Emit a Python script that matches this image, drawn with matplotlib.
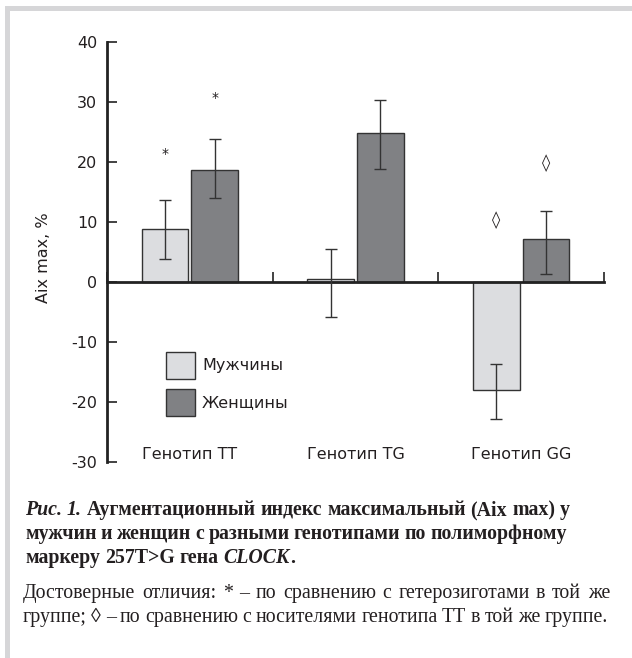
import matplotlib
matplotlib.use('Agg')
import matplotlib.pyplot as plt
from matplotlib.patches import Rectangle
import numpy as np

plt.rcParams['axes.unicode_minus'] = False

# данные
genotypes = ['Генотип TT', 'Генотип TG', 'Генотип GG']
series = ['Мужчины', 'Женщины']
men = [8.9, 0.5, -18.0]
men_lo = [5.0, 6.3, 4.8]
men_hi = [4.8, 5.0, 4.4]
women = [18.7, 24.8, 7.2]
women_lo = [4.7, 5.9, 5.8]
women_hi = [5.2, 5.6, 4.6]
# значки достоверности: (группа, пол, уровень)
stars = [(0, 0, 21.5), (0, 1, 30.8)]
diamonds = [(2, 0, 10.4), (2, 1, 19.8)]

yticks = [-30, -20, -10, 0, 10, 20, 30, 40]

W, H = 632, 658
ink = '#231f20'
sans = ['DejaVu Sans']
serif = ['Liberation Serif', 'DejaVu Serif']

fig = plt.figure(figsize=(W / 100, H / 100), dpi=100)
fig.patch.set_facecolor('white')

# серая рамка сверху и слева
fig.add_artist(Rectangle((5 / W, 1 - 11 / H), 1, 5 / H, transform=fig.transFigure,
                         facecolor='#d6d6d8', edgecolor='none'))
fig.add_artist(Rectangle((5 / W, 0), 5 / W, 1 - 6 / H, transform=fig.transFigure,
                         facecolor='#d6d6d8', edgecolor='none'))

ax = fig.add_axes([107 / W, 196 / H, 497 / W, 420 / H])
x = np.arange(len(genotypes))
off = 0.15
bw = 0.28
b1 = ax.bar(x + 0.5 - off, men, bw, color='#dcdde0', edgecolor='#333333', linewidth=1.0,
            label=series[0], zorder=2)
b2 = ax.bar(x + 0.5 + off, women, bw, color='#808184', edgecolor='#333333', linewidth=1.0,
            label=series[1], zorder=2)
ax.errorbar(x + 0.5 - off, men, yerr=[men_lo, men_hi], fmt='none', ecolor='#333333',
            elinewidth=1.0, capsize=4.3, capthick=1.0, zorder=3)
ax.errorbar(x + 0.5 + off, women, yerr=[women_lo, women_hi], fmt='none', ecolor='#333333',
            elinewidth=1.0, capsize=4.3, capthick=1.0, zorder=3)

for g, s, lev in stars:
    xx = g + 0.5 + (off if s else -off)
    ax.annotate('*', (xx, lev), xytext=(0, -0.5), textcoords='offset points', ha='center',
                va='center', fontsize=10, color=ink, family=sans)
for g, s, lev in diamonds:
    xx = g + 0.5 + (off if s else -off)
    ax.annotate('◊', (xx, lev), xytext=(0, 0), textcoords='offset points', ha='center',
                va='center', fontsize=12, color=ink, family=sans)

for i, name in enumerate(genotypes):
    ax.text(i + 0.5, -28.8, name, ha='center', va='center', fontsize=11.5, color=ink,
            family=sans)

ax.set_xlim(0, 3)
ax.set_ylim(-30, 40)
ax.set_yticks(yticks)
ax.set_xticks([0, 1, 2, 3])
ax.tick_params(axis='x', direction='in', length=7, width=1.2, labelbottom=False, color='#222222')
ax.tick_params(axis='y', direction='in', length=7, width=1.2, pad=7, labelsize=11.5,
               labelcolor=ink, color='#222222')
for lab in ax.get_yticklabels():
    lab.set_family(sans)
ax.spines['top'].set_visible(False)
ax.spines['right'].set_visible(False)
ax.spines['bottom'].set_position(('data', 0))
ax.spines['left'].set_linewidth(2)
ax.spines['bottom'].set_linewidth(2)
ax.spines['left'].set_color('#222222')
ax.spines['bottom'].set_color('#222222')
ax.set_ylabel('Aix max, %', fontsize=11.5, color=ink, family=sans)
ax.yaxis.set_label_coords(-0.113, 0.487)

fs = 11.5
fpx = fs * 100 / 72
hh = (27 / fpx - 0.245) / 0.65
ax.legend(handles=[b1, b2], loc='upper left',
          bbox_to_anchor=(165.7 / W, 1 - 351.7 / H), bbox_transform=fig.transFigure,
          frameon=False, borderpad=0, borderaxespad=0,
          handlelength=29 / fpx, handleheight=hh, handletextpad=0.46,
          labelspacing=(37.3 - 27) / fpx, prop={'family': sans, 'size': fs},
          labelcolor=ink)

# подпись к рисунку
renderer = fig.canvas.get_renderer()
styles = {'b': dict(weight='bold'), 'bi': dict(weight='bold', style='italic'),
          'n': dict(weight='normal')}


def text_width(s, st, size):
    t = fig.text(0, 0, s, fontsize=size, family=serif, **styles[st])
    w = t.get_window_extent(renderer).width
    t.remove()
    return w


def put_line(tokens, x0, yb, size, x_end=None):
    widths = [text_width(s, st, size) for s, st, glue in tokens]
    st0 = tokens[0][1]
    space = text_width('н н', st0, size) - text_width('нн', st0, size)
    gaps = sum(1 for s, st, glue in tokens[1:] if not glue)
    if x_end is not None and gaps:
        space = max((x_end - x0 - sum(widths)) / gaps, 0.6 * space)
    xx = x0
    for k, (s, st, glue) in enumerate(tokens):
        if k and not glue:
            xx += space
        fig.text(xx / W, 1 - yb / H, s, fontsize=size, family=serif, color=ink,
                 va='baseline', ha='left', **styles[st])
        xx += widths[k]


def words(s, st):
    return [(w, st, False) for w in s.split()]


bold_size = 14.3
norm_size = 14.3
line1 = [('Рис.', 'bi', False), ('1.', 'bi', False)] + \
    words('Аугментационный индекс максимальный (Aix max) у', 'b')
line2 = words('мужчин и женщин с разными генотипами по полиморфному', 'b')
line3 = words('маркеру 257T>G гена', 'b') + [('CLOCK', 'bi', False), ('.', 'b', True)]
line4 = words('Достоверные отличия: * – по сравнению с гетерозиготами в той же', 'n')
line5 = words('группе; ◊ – по сравнению с носителями генотипа ТТ в той же группе.', 'n')

put_line(line1, 25, 515, bold_size, 570)
put_line(line2, 25, 539, bold_size, 567)
put_line(line3, 25, 563, bold_size)
put_line(line4, 23, 598, norm_size, 610)
put_line(line5, 23, 622, norm_size, 608)

fig.savefig('out.png', dpi=100)
